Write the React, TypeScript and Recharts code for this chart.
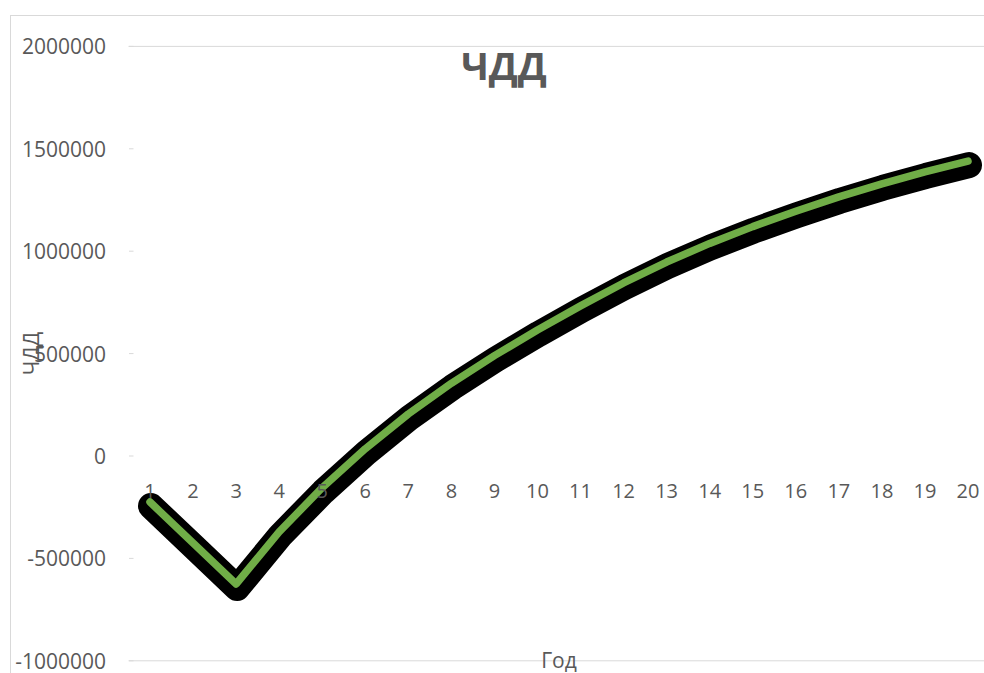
import React from 'react';
import { LineChart, Line, XAxis, YAxis, ReferenceLine } from 'recharts';

const years = ['1', '2', '3', '4', '5', '6', '7', '8', '9', '10', '11', '12', '13', '14', '15', '16', '17', '18', '19', '20'];
const npv = [-225000, -425000, -625000, -370000, -155000, 35000, 205000, 355000, 490000, 615000, 733000, 845000, 947000, 1038000, 1120000, 1195000, 1265000, 1329000, 1387000, 1440000];
const yTicks = [-1000000, -500000, 0, 500000, 1000000, 1500000, 2000000];
const yDomain = [-1000000, 2000000];
const chartTitle = 'ЧДД';
const yTitle = 'ЧДД';
const xTitle = 'Год';

const data = years.map((y, i) => ({ year: y, npv: npv[i] }));

const CHART_W = 1000;
const CHART_H = 700;
const MARGIN = { top: 46.4, right: 10.5, bottom: 29.2, left: 0.5 };
const X_AXIS_H = 10;
const PLOT_H = CHART_H - MARGIN.top - MARGIN.bottom - X_AXIS_H;
const ZERO_FROM_BOTTOM = (PLOT_H * (0 - yDomain[0])) / (yDomain[1] - yDomain[0]);

const TEXT = '#595959';
const GRID = '#d9d9d9';
const FONT = '"Open Sans", "Noto Sans", sans-serif';

const YTick = (props: any) => {
  const { x, y, payload } = props;
  return (
    <g>
      <line x1={x + 0.5} x2={x + 5} y1={y} y2={y} stroke={GRID} strokeWidth={1} />
      <text x={x - 22.5} y={y} textAnchor="end" dominantBaseline="central" fill={TEXT} fontSize={21} fontFamily={FONT}>
        {payload.value}
      </text>
    </g>
  );
};

const XTick = (props: any) => {
  const { x, y, payload } = props;
  return (
    <text x={x} y={y - ZERO_FROM_BOTTOM + 34} textAnchor="middle" dominantBaseline="central" fill={TEXT} fontSize={20} fontFamily={FONT}>
      {payload.value}
    </text>
  );
};

const YTitle = (props: any) => {
  const vb = props.viewBox;
  const cx = vb.x + 31;
  const cy = vb.y + vb.height / 2;
  return (
    <text x={cx} y={cy} transform={`rotate(-90, ${cx}, ${cy})`} textAnchor="middle" dominantBaseline="central" fill={TEXT} fontSize={21} fontFamily={FONT}>
      {yTitle}
    </text>
  );
};

const XTitle = (props: any) => {
  const vb = props.viewBox;
  return (
    <text x={vb.x + vb.width / 2} y={vb.y + 7} textAnchor="middle" fill={TEXT} fontSize={21} fontFamily={FONT}>
      {xTitle}
    </text>
  );
};

export default function App() {
  return (
    <div style={{ position: 'fixed', left: 0, top: 0, width: 984, height: 673, overflow: 'hidden', background: '#fff' }}>
      <style>{'.shadowLine .recharts-line-curve { transform: translate(1px, 4px); }'}</style>
      <div style={{ position: 'absolute', left: 10, top: 15, width: 1200, height: 900, border: `1px solid ${GRID}`, boxSizing: 'border-box' }} />
      <div style={{ position: 'absolute', left: 0, top: 0 }}>
        <LineChart width={CHART_W} height={CHART_H} data={data} margin={MARGIN}>
          <XAxis
            dataKey="year"
            height={X_AXIS_H}
            axisLine={false}
            tickLine={false}
            tickSize={0}
            tickMargin={0}
            interval={0}
            padding={{ left: 21.5, right: 21.5 }}
            tick={<XTick />}
            label={<XTitle />}
          />
          <YAxis
            width={128}
            domain={yDomain}
            ticks={yTicks}
            allowDataOverflow
            axisLine={false}
            tickLine={false}
            tickSize={0}
            tickMargin={0}
            interval={0}
            tick={<YTick />}
            label={<YTitle />}
          />
          <ReferenceLine y={2000000} stroke={GRID} strokeWidth={1} />
          <ReferenceLine y={-1000000} stroke={GRID} strokeWidth={1} />
          <Line
            className="shadowLine"
            dataKey="npv"
            type="linear"
            stroke="#000000"
            strokeWidth={26}
            strokeLinecap="round"
            strokeLinejoin="round"
            dot={false}
            activeDot={false}
            isAnimationActive={false}
          />
          <Line
            dataKey="npv"
            type="linear"
            stroke="#70ad47"
            strokeWidth={7.5}
            strokeLinecap="round"
            strokeLinejoin="round"
            dot={false}
            activeDot={false}
            isAnimationActive={false}
          />
        </LineChart>
      </div>
      <div style={{ position: 'absolute', left: 0, top: 45.5, width: 1008, textAlign: 'center', fontFamily: FONT, fontWeight: 700, fontSize: 38, lineHeight: '38px', color: TEXT }}>
        {chartTitle}
      </div>
    </div>
  );
}
